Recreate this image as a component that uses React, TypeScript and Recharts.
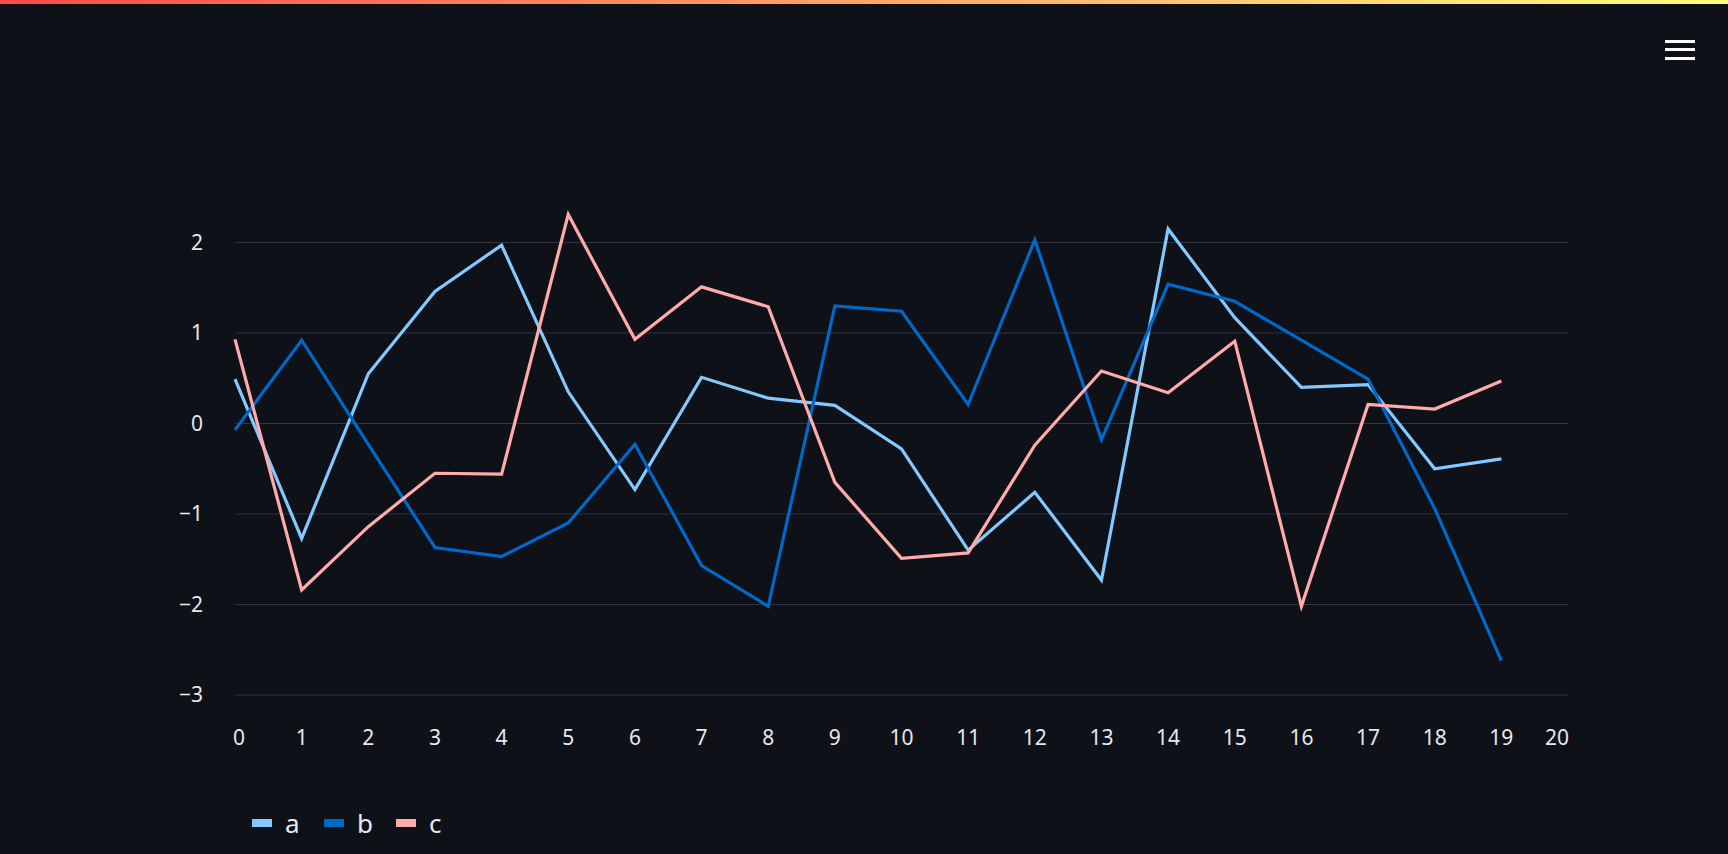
import React from 'react';
import { LineChart, Line, XAxis, YAxis, CartesianGrid } from 'recharts';

const xValues = [0, 1, 2, 3, 4, 5, 6, 7, 8, 9, 10, 11, 12, 13, 14, 15, 16, 17, 18, 19];
const seriesA = [0.49, -1.27, 0.55, 1.46, 1.97, 0.35, -0.73, 0.51, 0.28, 0.2, -0.28, -1.4, -0.76, -1.73, 2.15, 1.17, 0.4, 0.43, -0.5, -0.39];
const seriesB = [-0.07, 0.92, -0.23, -1.37, -1.47, -1.1, -0.23, -1.57, -2.02, 1.3, 1.24, 0.21, 2.03, -0.18, 1.54, 1.35, 0.92, 0.49, -0.94, -2.62];
const seriesC = [0.93, -1.84, -1.14, -0.55, -0.56, 2.31, 0.93, 1.51, 1.29, -0.65, -1.49, -1.43, -0.24, 0.58, 0.34, 0.91, -2.02, 0.21, 0.16, 0.47];
const seriesNames = ['a', 'b', 'c'];
const seriesColors = ['#83c9ff', '#0068c9', '#ffabab'];
const xTicks = [0, 1, 2, 3, 4, 5, 6, 7, 8, 9, 10, 11, 12, 13, 14, 15, 16, 17, 18, 19, 20];
const yTicks = [-3, -2, -1, 0, 1, 2];
const yDomain = [-3, 3];

const data = xValues.map((x, i) => ({ x, a: seriesA[i], b: seriesB[i], c: seriesC[i] }));

const FONT = '"Source Sans Pro", "Noto Sans", sans-serif';
const TEXT = '#e6e8ee';

const fmt = (v: number) => String(v).replace('-', '\u2212');

// first and last labels sit flush with the axis ends
const XTick = (props: any) => {
  const { x, y, payload } = props;
  const v = payload.value;
  let anchor: 'start' | 'middle' | 'end' = 'middle';
  let tx = x;
  if (v === xTicks[0]) { anchor = 'start'; tx = x - 2; }
  if (v === xTicks[xTicks.length - 1]) { anchor = 'end'; tx = x + 1; }
  return (
    <text x={tx} y={y + 42} dy="0.36em" textAnchor={anchor} fill={TEXT} fontSize={21} fontFamily={FONT}>
      {fmt(v)}
    </text>
  );
};

// grid only at the labelled ticks, not at the top of the domain
const gridRows = ({ offset }: any) =>
  yTicks.map((v) => offset.top + (offset.height * (yDomain[1] - v)) / (yDomain[1] - yDomain[0]));

const App: React.FC = () => {
  return (
    <div style={{ position: 'fixed', left: 0, top: 0, width: 1728, height: 854, background: '#0e1117', overflow: 'hidden' }}>
      <div style={{ position: 'absolute', left: 0, top: 0, width: 1728, height: 4, background: 'linear-gradient(90deg, #ff4b4b, #fffd80)' }} />
      {[40, 48.3, 56.7].map((t) => (
        <div key={t} style={{ position: 'absolute', left: 1665, top: t, width: 30, height: 3, background: '#fafafa' }} />
      ))}
      <div style={{ position: 'absolute', left: 0, top: 0 }}>
        <LineChart width={1728} height={854} data={data} margin={{ top: 152, right: 160, bottom: 99, left: 0 }}>
          <CartesianGrid vertical={false} stroke="#31333f" strokeWidth={1} horizontalCoordinatesGenerator={gridRows} />
          <XAxis
            type="number"
            dataKey="x"
            domain={[0, 20]}
            ticks={xTicks}
            interval={0}
            axisLine={false}
            tickLine={false}
            tickSize={0}
            tickMargin={0}
            height={60}
            tick={<XTick />}
          />
          <YAxis
            type="number"
            domain={yDomain}
            ticks={yTicks}
            interval={0}
            axisLine={false}
            tickLine={false}
            tickSize={0}
            tickMargin={32}
            width={235}
            tickFormatter={fmt}
            tick={{ fill: TEXT, fontSize: 21, fontFamily: FONT }}
          />
          {seriesNames.map((k, i) => (
            <Line
              key={k}
              type="linear"
              dataKey={k}
              stroke={seriesColors[i]}
              strokeWidth={3.2}
              dot={false}
              activeDot={false}
              isAnimationActive={false}
            />
          ))}
        </LineChart>
      </div>
      {seriesNames.map((k, i) => (
        <div key={k} style={{ position: 'absolute', left: 252 + i * 72, top: 804, height: 38, display: 'flex', alignItems: 'center' }}>
          <div style={{ width: 20, height: 8, background: seriesColors[i] }} />
          <span style={{ marginLeft: 13, color: TEXT, fontSize: 26, fontFamily: FONT, lineHeight: '38px' }}>{k}</span>
        </div>
      ))}
    </div>
  );
};

export default App;
